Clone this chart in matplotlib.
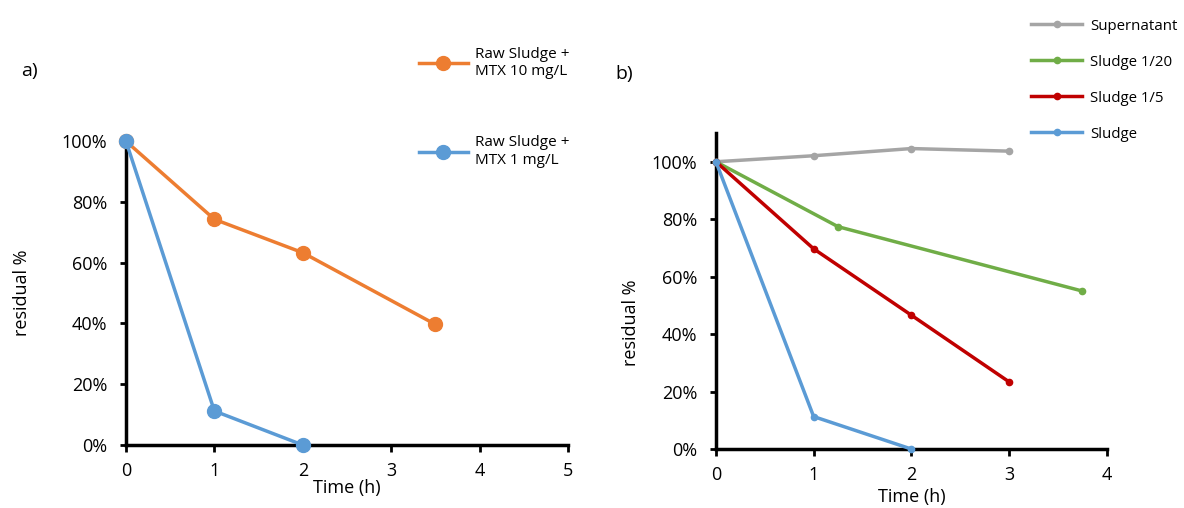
import matplotlib
matplotlib.use("Agg")
from matplotlib import pyplot as plt
from matplotlib.ticker import PercentFormatter

plt.rcParams['font.family'] = ['Open Sans', 'DejaVu Sans']

# panel a data
time_a_10 = [0, 1, 2, 3.5]
resid_a_10 = [1.00, 0.743, 0.633, 0.397]
time_a_1 = [0, 1, 2]
resid_a_1 = [1.00, 0.112, 0.0]

# panel b data
time_sup = [0, 1, 2, 3]
resid_sup = [1.00, 1.021, 1.046, 1.037]
time_s20 = [0, 1.25, 3.75]
resid_s20 = [1.00, 0.774, 0.550]
time_s5 = [0, 1, 2, 3]
resid_s5 = [1.00, 0.697, 0.466, 0.234]
time_sl = [0, 1, 2]
resid_sl = [1.00, 0.113, 0.0]

ORANGE = '#ED7D31'
BLUE = '#5B9BD5'
GRAY = '#A5A5A5'
GREEN = '#70AD47'
RED = '#C00000'


def style_axes(ax, xmax, ymax):
    ax.set_xlim(0, xmax)
    ax.set_ylim(0, ymax)
    for s in ['top', 'right']:
        ax.spines[s].set_visible(False)
    for s in ['left', 'bottom']:
        ax.spines[s].set_linewidth(2.5)
        ax.spines[s].set_color('black')
    ax.set_xticks(range(0, xmax + 1))
    ax.set_yticks([0, 0.2, 0.4, 0.6, 0.8, 1.0])
    ax.yaxis.set_major_formatter(PercentFormatter(1.0, decimals=0))
    ax.tick_params(axis='x', direction='out', length=5, width=2, labelsize=13, pad=7)
    ax.tick_params(axis='y', direction='out', length=4.5, width=2, labelsize=13, pad=9)
    ax.set_xlabel('Time (h)', fontsize=13)
    ax.set_ylabel('residual %', fontsize=13)


fig = plt.figure(figsize=(11.84, 5.08), dpi=100)

ax1 = fig.add_axes([0.1064, 0.124, 0.3733, 0.598])
ax1.plot(time_a_10, resid_a_10, '-o', color=ORANGE, lw=2.5, ms=10, label='Raw Sludge +\nMTX 10 mg/L', clip_on=False, zorder=3)
ax1.plot(time_a_1, resid_a_1, '-o', color=BLUE, lw=2.5, ms=10, label='Raw Sludge +\nMTX 1 mg/L', clip_on=False, zorder=3)
style_axes(ax1, 5, 1.0)
ax1.xaxis.set_label_coords(0.5, -0.112)
ax1.yaxis.set_label_coords(-0.215, 0.5)
ax1.legend(loc='upper left', bbox_to_anchor=(0.3486, 0.92), bbox_transform=fig.transFigure,
           frameon=False, fontsize=11, handlelength=3.2, handletextpad=0.5,
           labelspacing=3.7, borderaxespad=0)
fig.text(0.018, 0.85, 'a)', fontsize=14)

ax2 = fig.add_axes([0.6047, 0.1161, 0.330, 0.622])
ax2.plot(time_sup, resid_sup, '-o', color=GRAY, lw=2.5, ms=4.5, label='Supernatant', clip_on=False, zorder=3)
ax2.plot(time_s20, resid_s20, '-o', color=GREEN, lw=2.5, ms=4.5, label='Sludge 1/20', clip_on=False, zorder=3)
ax2.plot(time_s5, resid_s5, '-o', color=RED, lw=2.5, ms=4.5, label='Sludge 1/5', clip_on=False, zorder=3)
ax2.plot(time_sl, resid_sl, '-o', color=BLUE, lw=2.5, ms=4.5, label='Sludge', clip_on=False, zorder=3)
style_axes(ax2, 4, 1.1)
ax2.xaxis.set_label_coords(0.5, -0.122)
ax2.yaxis.set_label_coords(-0.195, 0.40)
ax2.legend(loc='upper left', bbox_to_anchor=(0.866, 0.975), bbox_transform=fig.transFigure,
           frameon=False, fontsize=10.8, handlelength=3.4, handletextpad=0.5,
           labelspacing=1.4, borderaxespad=0)
fig.text(0.52, 0.845, 'b)', fontsize=14)

fig.savefig('out.png', dpi=100)
